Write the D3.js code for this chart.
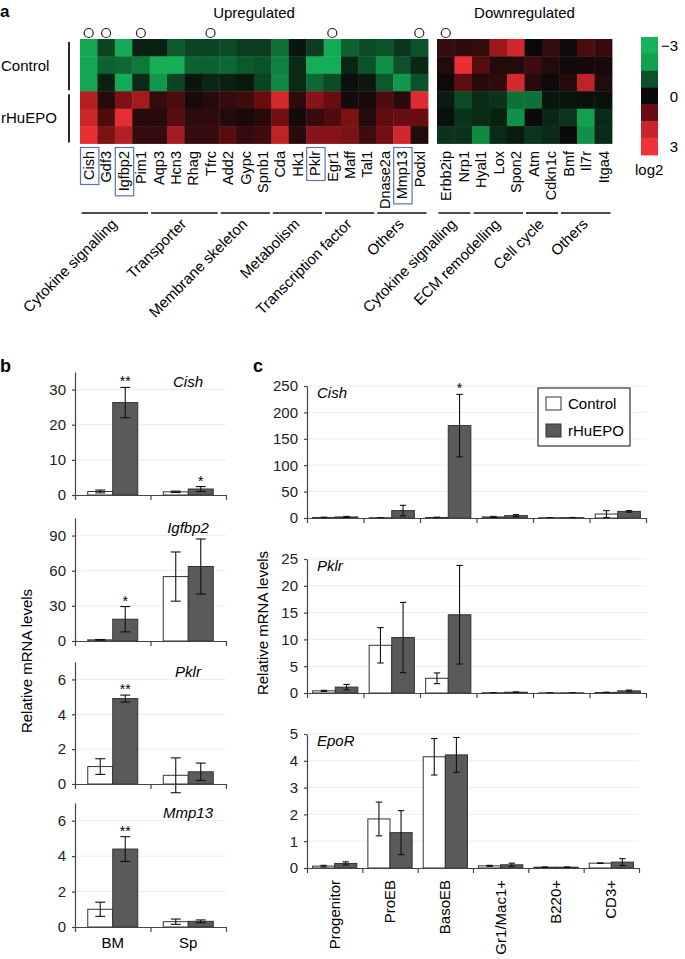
<!DOCTYPE html>
<html>
<head>
<meta charset="utf-8">
<script src="https://cdn.jsdelivr.net/npm/d3@7"></script>
<style>
  body { margin: 0; background: #fff; }
  svg { display: block; font-family: "Liberation Sans", Arial, sans-serif; }
</style>
</head>
<body>
<svg id="fig" width="685" height="959"></svg>
<script>
// ---- panel a : heatmap data (log2, -3 green ... 3 red) ----
const upGenes = ["Cish","Gdf3","Igfbp2","Pim1","Aqp3","Hcn3","Rhag","Tfrc","Add2","Gypc",
                 "Spnb1","Cda","Hk1","Pklr","Egr1","Maff","Tal1","Dnase2a","Mmp13","Podxl"];
const downGenes = ["Erbb2ip","Nrp1","Hyal1","Lox","Spon2","Atm","Cdkn1c","Bmf","Il7r","Itga4"];
const rowGroups = ["Control","rHuEPO"];

// 6 rows : Control x3 then rHuEPO x3
const upValues = [
  [-2.3,-0.8,-2.5,-0.3,-0.3,-1.1,-0.8,-0.8,-0.9,-0.7,-0.7,-1.4,-0.15,-0.7,-2.6,-1.2,-0.9,-1.0,-0.6,-1.0],
  [-2.3,-1.2,-1.3,-1.5,-2.8,-2.8,-1.2,-1.2,-1.3,-1.1,-1.0,-1.6,-0.45,-2.7,-2.7,-0.4,-1.0,-1.8,-1.0,-0.4],
  [-2.3,-0.3,-2.6,-0.45,-1.9,-0.8,-0.15,-0.4,-0.3,-0.2,-0.8,-1.7,-0.45,-1.3,-0.9,-0.1,-0.2,-1.1,-1.9,-1.0],
  [1.8,0.3,1.2,1.6,0.45,0.7,0.15,0.3,0.45,0.55,1.0,2.3,0.4,1.3,1.0,0.1,0.15,0.7,0.3,2.5],
  [2.1,0.7,2.7,0.3,0.3,0.8,0.4,0.4,0.25,0.15,0.3,1.1,0.1,0.45,0.7,1.2,0.25,0.9,1.0,1.0],
  [2.8,1.2,1.8,0.45,0.45,1.6,0.45,0.45,0.8,0.45,0.55,1.9,0.3,1.3,1.3,1.2,0.55,1.1,2.2,0.25]
];
const downValues = [
  [0.45,0.4,0.45,1.5,2.2,0.0,0.45,0.05,0.7,0.45],
  [0.25,2.8,0.8,0.25,0.25,0.55,0.25,0.1,0.1,0.15],
  [0.05,0.85,0.3,0.4,2.3,0.3,0.05,0.3,1.9,0.25],
  [-0.25,-0.9,-0.45,-0.55,-1.4,-1.4,-0.15,-0.15,-0.1,-0.1],
  [-0.1,-0.55,-0.45,-0.3,-1.8,0.0,-0.4,-0.6,-2.0,-0.45],
  [-0.55,-0.55,-1.7,-0.45,-0.25,-0.6,-0.45,0.0,-1.8,-0.45]
];

const upGroupNames = ["Cytokine signalling","Transporter","Membrane skeleton","Metabolism","Transcription factor","Others"];
const upGroupSizes = [4,4,3,3,3,3];
const downGroupNames = ["Cytokine signalling","ECM remodelling","Cell cycle","Others"];
const downGroupSizes = [2,3,2,3];

const circledGenes = ["Cish","Gdf3","Pim1","Tfrc","Egr1","Podxl","Erbb2ip"];
const boxedGenes = ["Cish","Igfbp2","Pklr","Mmp13"];

const legendSteps = [-3,-2,-1,0,1,2,3];
const legendTicks = [-3,0,3];

// ---- panel b : BM / Sp ----
const tissues = ["BM","Sp"];
const bGenes = ["Cish","Igfbp2","Pklr","Mmp13"];
const bCtrlMean = [[1.0,0.9],[1.0,55],[1.0,0.5],[1.0,0.3]];
const bCtrlErr  = [[0.4,0.2],[0.3,21],[0.45,1.0],[0.4,0.15]];
const bEpoMean  = [[26.3,1.7],[18.6,63.6],[4.9,0.7],[4.4,0.32]];
const bEpoErr   = [[4.3,0.7],[10.8,23.5],[0.2,0.5],[0.7,0.08]];
const bStars    = [["**","*"],["*",""],["**",""],["**",""]];
const bMax   = [35,105,7,7];
const bTicks = [[0,10,20,30],[0,30,60,90],[0,2,4,6],[0,2,4,6]];

// ---- panel c : sorted populations ----
const cellTypes = ["Progenitor","ProEB","BasoEB","Gr1/Mac1+","B220+","CD3+"];
const cGenes = ["Cish","Pklr","EpoR"];
const cCtrlMean = [[1,0.5,1,2,0.5,7.5],[0.4,8.9,2.75,0.05,0.02,0.1],[0.07,1.83,4.15,0.08,0.03,0.18]];
const cCtrlErr  = [[0.5,0.3,0.5,1,0.3,6.5],[0.1,3.3,1.0,0.03,0.01,0.05],[0.03,0.63,0.68,0.02,0.01,0.01]];
const cEpoMean  = [[2,14,175,4.5,0.7,12.5],[1.1,10.35,14.6,0.15,0.03,0.4],[0.17,1.32,4.22,0.12,0.03,0.22]];
const cEpoErr   = [[1,10,59,2,0.3,1.5],[0.5,6.55,9.2,0.05,0.01,0.15],[0.06,0.82,0.65,0.06,0.01,0.13]];
const cStars    = [["","","*","","",""],["","","","","",""],["","","","","",""]];
const cMax   = [250,25,5];
const cTicks = [[0,50,100,150,200,250],[0,5,10,15,20,25],[0,1,2,3,4,5]];

const series = ["Control","rHuEPO"];

// ---------------------------------------------------------------
const svg = d3.select('#fig');
svg.append('rect').attr('width',685).attr('height',959).attr('fill','#fff');

const heat = d3.scaleLinear()
  .domain([-3,-2,-1,0,1,2,3])
  .range(["#16b35a","#12a050","#0b5228","#0a0a0a","#6a0d10","#c8252b","#f03236"])
  .clamp(true);

const seriesFill = d3.scaleOrdinal().domain(series).range(["#ffffff","#5a5a5a"]);

// panel letters
svg.append('text').attr('x',0).attr('y',16.5).attr('font-size',17).attr('font-weight','bold').text('a');
svg.append('text').attr('x',0).attr('y',372).attr('font-size',18).attr('font-weight','bold').text('b');
svg.append('text').attr('x',253).attr('y',372).attr('font-size',18).attr('font-weight','bold').text('c');

// titles
svg.append('text').attr('x',254).attr('y',18).attr('text-anchor','middle').attr('font-size',15).text('Upregulated');
svg.append('text').attr('x',524.5).attr('y',18).attr('text-anchor','middle').attr('font-size',15).text('Downregulated');

// row labels + brackets
const rowY = d3.scaleBand().domain(d3.range(6)).range([39,143.5]);
rowGroups.forEach((r,i) => {
  const y0 = rowY(i*3), y1 = rowY(i*3+2) + rowY.bandwidth();
  svg.append('text').attr('x',1).attr('y',(y0+y1)/2+5.5).attr('font-size',15).text(r);
  svg.append('line').attr('x1',69).attr('x2',69).attr('y1',y0+3).attr('y2',y1-1)
    .attr('stroke','#111').attr('stroke-width',1.8);
});

function drawHeatmap(genes, values, x0, x1, groupNames, groupSizes) {
  const x = d3.scaleBand().domain(genes).range([x0,x1]);

  values.forEach((row,i) => {
    svg.append('g').selectAll('rect').data(row).join('rect')
      .attr('x',(d,j) => x(genes[j]))
      .attr('y',rowY(i))
      .attr('width',x.bandwidth()+0.4)
      .attr('height',rowY.bandwidth()+0.4)
      .attr('fill',d => heat(d));
  });

  // significance circles
  svg.append('g').selectAll('circle')
    .data(genes.filter(g => circledGenes.includes(g)))
    .join('circle')
    .attr('cx',d => x(d)+x.bandwidth()/2)
    .attr('cy',33)
    .attr('r',4.5)
    .attr('fill','none')
    .attr('stroke','#222')
    .attr('stroke-width',1.2);

  // gene names
  const labels = svg.append('g').selectAll('text').data(genes).join('text')
    .attr('transform',d => `translate(${x(d)+x.bandwidth()/2+5.3},151) rotate(-90)`)
    .attr('text-anchor','end')
    .attr('font-size',14.5)
    .text(d => d);

  labels.filter(d => boxedGenes.includes(d)).each(function(d) {
    const len = this.getComputedTextLength();
    svg.append('rect')
      .attr('x',x(d)+0.5).attr('y',147.5)
      .attr('width',x.bandwidth()+1).attr('height',len+8)
      .attr('fill','none').attr('stroke','#5b74b6').attr('stroke-width',1.2);
  });

  // category lines
  let k = 0;
  groupNames.forEach((name,i) => {
    const a = x(genes[k]);
    const b = x(genes[k+groupSizes[i]-1]) + x.bandwidth();
    k += groupSizes[i];
    svg.append('line').attr('x1',a+1.5).attr('x2',b-1.5).attr('y1',213).attr('y2',213)
      .attr('stroke','#111').attr('stroke-width',1.6);
    svg.append('text')
      .attr('transform',`translate(${(a+b)/2+3},225) rotate(-45)`)
      .attr('text-anchor','end')
      .attr('font-size',15)
      .text(name);
  });
}

drawHeatmap(upGenes, upValues, 80, 428, upGroupNames, upGroupSizes);
drawHeatmap(downGenes, downValues, 437, 612, downGroupNames, downGroupSizes);

// colour key
const keyY = d3.scaleBand().domain(legendSteps).range([37,155]);
svg.append('g').selectAll('rect').data(legendSteps).join('rect')
  .attr('x',641).attr('y',d => keyY(d)).attr('width',17).attr('height',keyY.bandwidth()+0.4)
  .attr('fill',d => heat(d));
svg.append('g').selectAll('text').data(legendTicks).join('text')
  .attr('x',678).attr('y',d => keyY(d)+keyY.bandwidth()/2+5.5)
  .attr('text-anchor','end').attr('font-size',15)
  .text(d => d < 0 ? '\u2212' + Math.abs(d) : d);
svg.append('text').attr('x',635).attr('y',175).attr('font-size',15).text('log2');

// ---------------------------------------------------------------
function drawBars(cfg) {
  const x = d3.scaleBand().domain(cfg.cats).range([cfg.x0,cfg.x1]);
  const sub = d3.scaleBand().domain(series).range([0,x.bandwidth()]).paddingOuter(cfg.pad);
  const y = d3.scaleLinear().domain([0,cfg.max]).range([cfg.bottom,cfg.top]);
  const g = svg.append('g');

  // faint grid
  g.append('g').selectAll('line').data(cfg.ticks.filter(t => t > 0)).join('line')
    .attr('x1',cfg.x0).attr('x2',cfg.x1).attr('y1',d => y(d)).attr('y2',d => y(d))
    .attr('stroke','#ededed').attr('stroke-width',1);

  const rows = [];
  cfg.cats.forEach((c,i) => {
    rows.push({cat:c, s:"Control", v:cfg.ctrl[i], e:cfg.ctrlErr[i], star:""});
    rows.push({cat:c, s:"rHuEPO", v:cfg.epo[i], e:cfg.epoErr[i], star:cfg.stars[i]});
  });

  g.append('g').selectAll('rect').data(rows).join('rect')
    .attr('x',d => x(d.cat)+sub(d.s))
    .attr('y',d => y(d.v))
    .attr('width',sub.bandwidth())
    .attr('height',d => y(0)-y(d.v))
    .attr('fill',d => seriesFill(d.s))
    .attr('stroke','#333').attr('stroke-width',1);

  const eb = g.append('g').attr('stroke','#111').attr('stroke-width',1.1);
  rows.forEach(d => {
    const cx = x(d.cat)+sub(d.s)+sub.bandwidth()/2;
    const hi = y(d.v+d.e), lo = y(d.v-d.e);
    eb.append('line').attr('x1',cx).attr('x2',cx).attr('y1',hi).attr('y2',lo);
    eb.append('line').attr('x1',cx-cfg.cap).attr('x2',cx+cfg.cap).attr('y1',hi).attr('y2',hi);
    eb.append('line').attr('x1',cx-cfg.cap).attr('x2',cx+cfg.cap).attr('y1',lo).attr('y2',lo);
    if (d.star) {
      g.append('text').attr('x',cx).attr('y',hi-1).attr('text-anchor','middle')
        .attr('font-size',14).text(d.star);
    }
  });

  // y axis
  const ya = g.append('g').attr('transform',`translate(${cfg.x0},0)`)
    .call(d3.axisLeft(y).tickValues(cfg.ticks).tickFormat(d3.format('d'))
      .tickSize(3).tickSizeOuter(0).tickPadding(6));
  ya.attr('font-size',15).attr('font-family',null);
  ya.selectAll('path,line').attr('stroke','#444').attr('stroke-width',1.2);
  ya.selectAll('text').attr('fill','#222');

  // x axis with ticks on group boundaries
  const xb = d3.scaleLinear().domain([0,cfg.cats.length]).range([cfg.x0,cfg.x1]);
  const xa = g.append('g').attr('transform',`translate(0,${cfg.bottom})`)
    .call(d3.axisBottom(xb).tickValues(d3.range(cfg.cats.length+1)).tickFormat('').tickSize(5).tickSizeOuter(0));
  xa.selectAll('path,line').attr('stroke','#444').attr('stroke-width',1.2);

  // gene name
  g.append('text').attr('x',cfg.labelX).attr('y',cfg.labelY)
    .attr('text-anchor',cfg.labelAnchor).attr('font-size',15).attr('font-style','italic')
    .text(cfg.gene);

  return x;
}

// panel b
const bTop = [372,518,662,803];
const bBottom = [495,641,784,927];
let bx;
bGenes.forEach((gene,i) => {
  bx = drawBars({
    cats:tissues, ctrl:bCtrlMean[i], ctrlErr:bCtrlErr[i], epo:bEpoMean[i], epoErr:bEpoErr[i],
    stars:bStars[i], x0:75, x1:226, top:bTop[i], bottom:bBottom[i], max:bMax[i], ticks:bTicks[i],
    pad:0.51, cap:5, gene:gene, labelX:188, labelY:bTop[i]+15, labelAnchor:'middle'
  });
});
svg.append('g').selectAll('text').data(tissues).join('text')
  .attr('x',d => bx(d)+bx.bandwidth()/2).attr('y',948)
  .attr('text-anchor','middle').attr('font-size',15).text(d => d);
svg.append('text').attr('transform','translate(32,661) rotate(-90)')
  .attr('text-anchor','middle').attr('font-size',15).text('Relative mRNA levels');

// panel c
const cTop = [386,559,734];
const cBottom = [518,693,868];
const cRight = [646,646,639];
let cx;
cGenes.forEach((gene,i) => {
  cx = drawBars({
    cats:cellTypes, ctrl:cCtrlMean[i], ctrlErr:cCtrlErr[i], epo:cEpoMean[i], epoErr:cEpoErr[i],
    stars:cStars[i], x0:307, x1:cRight[i], top:cTop[i], bottom:cBottom[i], max:cMax[i], ticks:cTicks[i],
    pad:0.25, cap:3.2, gene:gene, labelX:317, labelY:cTop[i]+12, labelAnchor:'start'
  });
});
svg.append('g').selectAll('text').data(cellTypes).join('text')
  .attr('transform',d => `translate(${cx(d)+cx.bandwidth()/2+5},880) rotate(-90)`)
  .attr('text-anchor','end').attr('font-size',15).text(d => d);
svg.append('text').attr('transform','translate(268,623) rotate(-90)')
  .attr('text-anchor','middle').attr('font-size',15).text('Relative mRNA levels');

// legend of panel c
const lg = svg.append('g').attr('transform','translate(538,388)');
lg.append('rect').attr('width',92).attr('height',58).attr('fill','#fff')
  .attr('stroke','#333').attr('stroke-width',1.2);
series.forEach((s,i) => {
  lg.append('rect').attr('x',8).attr('y',9+i*27).attr('width',15).attr('height',13)
    .attr('fill',seriesFill(s)).attr('stroke','#333').attr('stroke-width',1);
  lg.append('text').attr('x',30).attr('y',21+i*27).attr('font-size',15).text(s);
});
</script>
</body>
</html>
